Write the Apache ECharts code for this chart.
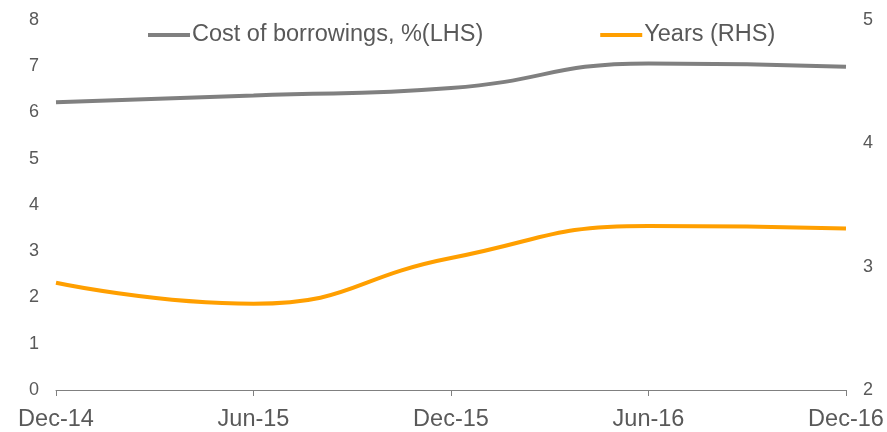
<!DOCTYPE html>
<html>
<head>
<meta charset="utf-8">
<script src="https://cdn.jsdelivr.net/npm/echarts@6/dist/echarts.min.js"></script>
<style>
  html, body { margin: 0; padding: 0; background: #fff; }
  #chart { width: 887px; height: 432px; }
</style>
</head>
<body>
<div id="chart"></div>
<script>
// Half-yearly periods on the x axis
const periods = ['Dec-14', 'Jun-15', 'Dec-15', 'Jun-16', 'Dec-16'];
// Cost of borrowings, % (left axis)
const costOfBorrowings = [6.22, 6.37, 6.53, 7.06, 6.99];
// Tenor in years (right axis)
const years = [2.87, 2.70, 3.07, 3.33, 3.31];

const leftTicks = { min: 0, max: 8, interval: 1 };
const rightTicks = { min: 2, max: 5, interval: 1 };

const textColor = '#595959';
const font = 'Liberation Sans, Arial, sans-serif';

const chart = echarts.init(document.getElementById('chart'));
chart.setOption({
  animation: false,
  grid: { left: 56, right: 41, top: 20, bottom: 38, containLabel: false },
  legend: {
    left: 143,
    top: 18,
    itemGap: 117,
    itemWidth: 42,
    itemHeight: 4,
    icon: 'rect',
    textStyle: { color: textColor, fontSize: 23.5, fontFamily: font, padding: [0, 0, 0, -3] },
    data: ['Cost of borrowings, %(LHS)', 'Years (RHS)']
  },
  xAxis: {
    type: 'category',
    data: periods,
    boundaryGap: false,
    axisLine: { lineStyle: { color: '#808080', width: 1 } },
    axisTick: { show: true, length: 6, lineStyle: { color: '#808080' } },
    axisLabel: { color: textColor, fontSize: 23.5, fontFamily: font, margin: 18 }
  },
  yAxis: [
    {
      type: 'value',
      min: leftTicks.min, max: leftTicks.max, interval: leftTicks.interval,
      axisLine: { show: false },
      axisTick: { show: false },
      splitLine: { show: false },
      axisLabel: { color: textColor, fontSize: 18, fontFamily: font, margin: 17 }
    },
    {
      type: 'value',
      position: 'right',
      min: rightTicks.min, max: rightTicks.max, interval: rightTicks.interval,
      axisLine: { show: false },
      axisTick: { show: false },
      splitLine: { show: false },
      axisLabel: { color: textColor, fontSize: 18, fontFamily: font, margin: 17 }
    }
  ],
  series: [
    {
      name: 'Cost of borrowings, %(LHS)',
      type: 'line',
      yAxisIndex: 0,
      data: costOfBorrowings,
      smooth: 0.5,
      symbol: 'none',
      lineStyle: { color: '#808080', width: 4 },
      itemStyle: { color: '#808080' }
    },
    {
      name: 'Years (RHS)',
      type: 'line',
      yAxisIndex: 1,
      data: years,
      smooth: 0.5,
      symbol: 'none',
      lineStyle: { color: '#FF9F00', width: 4 },
      itemStyle: { color: '#FF9F00' }
    }
  ]
});
</script>
</body>
</html>
